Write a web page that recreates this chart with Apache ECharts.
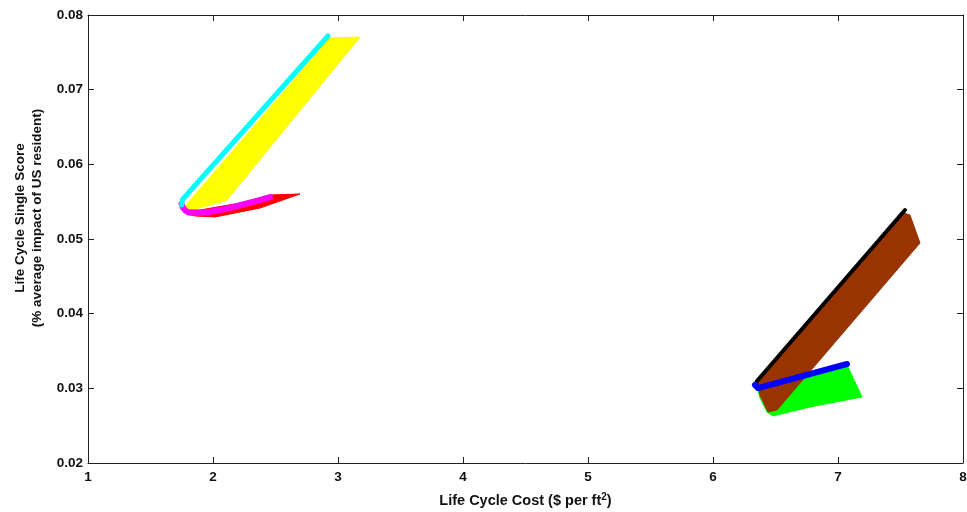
<!DOCTYPE html>
<html><head><meta charset="utf-8">
<script src="https://cdn.jsdelivr.net/npm/echarts@6/dist/echarts.min.js"></script>
<style>html,body{margin:0;padding:0;background:#fff}#c{width:967px;height:512px}</style>
</head><body><div id="c"></div>
<script>
// Axis ticks
const xTicks = [1, 2, 3, 4, 5, 6, 7, 8];
const yTicks = [0.02, 0.03, 0.04, 0.05, 0.06, 0.07, 0.08];

// Shapes: [cost, score]
const yellowArea = [[1.77,0.0543],[2.936,0.07692],[3.176,0.07705],[2.112,0.05522],[1.84,0.0539]];
const redArea = [[1.776,0.05388],[1.856,0.05308],[2.016,0.05295],[2.376,0.05415],[2.696,0.05603],[2.456,0.05589],[2.216,0.05482],[1.896,0.05388]];
const magentaLine = [[1.748,0.05470],[1.776,0.05388],[1.84,0.05348],[2.016,0.05375],[2.256,0.05469],[2.456,0.05562]];
const cyanLine = [[1.75,0.05455],[1.756,0.05530],[2.92,0.07719]];

const greenArea = [[6.36,0.02978],[7.08,0.03286],[7.192,0.02884],[6.776,0.0275],[6.48,0.0263],[6.432,0.02683],[6.376,0.0287]];
const brownArea = [[6.352,0.03071],[7.528,0.05348],[7.576,0.05321],[7.656,0.04946],[6.512,0.0271],[6.44,0.02683],[6.376,0.02911]];
const blackLine = [[6.336,0.03031],[6.352,0.03098],[7.536,0.05388]];
const blueLine = [[6.336,0.03045],[6.36,0.03004],[7.072,0.03326]];

function polySeries(pts, color, z) {
  return {
    type: 'custom', z: z, silent: true,
    data: pts,
    renderItem: function (params, api) {
      if (params.dataIndex !== 0) return null;
      return {
        type: 'polygon',
        shape: { points: pts.map(p => api.coord(p)) },
        style: { fill: color, stroke: color, lineWidth: 1 }
      };
    }
  };
}
function lineSeries(pts, color, w, z, smooth) {
  return { type: 'line', data: pts, showSymbol: false, smooth: smooth || false, z: z, silent: true,
    lineStyle: { color: color, width: w, cap: 'round', join: 'round' } };
}

const font = 'Liberation Sans, Arial, Helvetica, sans-serif';
const axisLineStyle = { show: true, lineStyle: { color: '#222', width: 1 } };
const tickStyle = { show: true, inside: true, length: 6, lineStyle: { color: '#222' } };

const chart = echarts.init(document.getElementById('c'));
chart.setOption({
  animation: false,
  grid: { left: 88, right: 4, top: 15, bottom: 49, outerBoundsMode: 'none', containLabel: false },
  xAxis: [{
    type: 'value', min: xTicks[0], max: xTicks[xTicks.length-1], interval: 1,
    axisLine: axisLineStyle, axisTick: tickStyle, splitLine: { show: false },
    axisLabel: { color: '#111', fontFamily: font, fontWeight: 'bold', fontSize: 13.5, margin: 7 },
    name: '{a|Life Cycle Cost ($ per ft}{s|2}{a|)}', nameLocation: 'middle', nameGap: 29,
    nameTextStyle: { rich: {
      a: { fontFamily: font, fontWeight: 'bold', fontSize: 14.5, color: '#111' },
      s: { fontFamily: font, fontWeight: 'bold', fontSize: 10, color: '#111', verticalAlign: 'top', padding: [0,0,8,0] }
    } }
  }, {
    type: 'value', position: 'top', min: xTicks[0], max: xTicks[xTicks.length-1], interval: 1,
    axisLine: axisLineStyle, axisTick: tickStyle, axisLabel: { show: false }, splitLine: { show: false }
  }],
  yAxis: [{
    type: 'value', min: yTicks[0], max: yTicks[yTicks.length-1], interval: 0.01,
    axisLine: axisLineStyle, axisTick: tickStyle, splitLine: { show: false },
    axisLabel: { color: '#111', fontFamily: font, fontWeight: 'bold', fontSize: 13.5, margin: 5,
      formatter: v => v.toFixed(2) },
    name: 'Life Cycle Single Score\n(% average impact of US resident)', nameLocation: 'middle', nameGap: 42,
    nameTextStyle: { fontFamily: font, fontWeight: 'bold', fontSize: 13.5, color: '#111', lineHeight: 17,
      padding: [0, 0, 0, 42] }
  }, {
    type: 'value', position: 'right', min: yTicks[0], max: yTicks[yTicks.length-1], interval: 0.01,
    axisLine: axisLineStyle, axisTick: tickStyle, axisLabel: { show: false }, splitLine: { show: false }
  }],
  series: [
    polySeries(yellowArea, '#ffff00', 1),
    polySeries(redArea, '#ff0000', 2),
    lineSeries(magentaLine, '#ff00ff', 6, 3, true),
    lineSeries(cyanLine, '#00ffff', 5, 4),
    polySeries(greenArea, '#00ff00', 1),
    polySeries(brownArea, '#993300', 2),
    lineSeries(blackLine, '#000000', 4, 3),
    lineSeries(blueLine, '#0000ff', 6, 4)
  ]
});
</script></body></html>
